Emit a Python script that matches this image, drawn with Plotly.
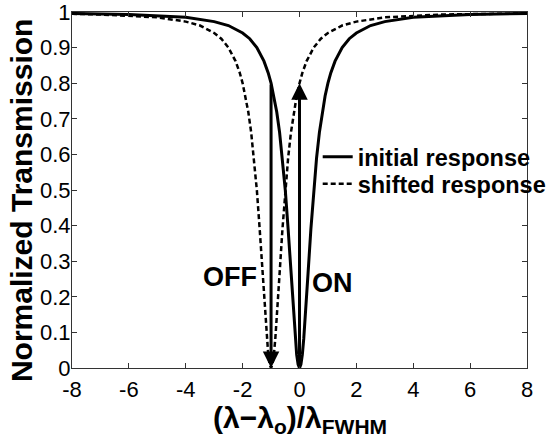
import plotly.graph_objects as go

# Normalized x: (lambda - lambda0) / lambda_FWHM
initial_x = [-8, -6, -4, -3, -2.5, -2, -1.75, -1.5, -1.25, -1.1, -1, -0.9, -0.8, -0.7, -0.6, -0.5,
             -0.4, -0.3, -0.2, -0.15, -0.1, -0.05, 0, 0.05, 0.1, 0.15, 0.2, 0.3, 0.4, 0.5, 0.6,
             0.7, 0.8, 0.9, 1, 1.1, 1.25, 1.5, 1.75, 2, 2.5, 3, 4, 6, 8]
initial_y = [0.996, 0.993, 0.985, 0.973, 0.962, 0.941, 0.925, 0.900, 0.862, 0.829, 0.800, 0.764,
             0.719, 0.662, 0.590, 0.500, 0.390, 0.265, 0.138, 0.083, 0.038, 0.010, 0.0, 0.010,
             0.038, 0.083, 0.138, 0.265, 0.390, 0.500, 0.590, 0.662, 0.719, 0.764, 0.800, 0.829,
             0.862, 0.900, 0.925, 0.941, 0.962, 0.973, 0.985, 0.993, 0.996]

shifted_x = [-8, -7, -5, -4, -3.5, -3, -2.75, -2.5, -2.25, -2.1, -2, -1.9, -1.8, -1.7, -1.6, -1.5,
             -1.4, -1.3, -1.2, -1.15, -1.1, -1.05, -1, -0.95, -0.9, -0.85, -0.8, -0.7, -0.6, -0.5,
             -0.4, -0.3, -0.2, -0.1, 0, 0.1, 0.25, 0.5, 0.75, 1, 1.5, 2, 3, 5, 7, 8]
shifted_y = [0.995, 0.993, 0.985, 0.973, 0.962, 0.941, 0.925, 0.900, 0.862, 0.829, 0.800, 0.764,
             0.719, 0.662, 0.590, 0.500, 0.390, 0.265, 0.138, 0.083, 0.038, 0.010, 0.0, 0.010,
             0.038, 0.083, 0.138, 0.265, 0.390, 0.500, 0.590, 0.662, 0.719, 0.764, 0.800, 0.829,
             0.862, 0.900, 0.925, 0.941, 0.962, 0.973, 0.985, 0.993, 0.995, 0.996]

x_ticks = [-8, -6, -4, -2, 0, 2, 4, 6, 8]
x_tick_labels = ["-8", "-6", "-4", "-2", "0", "2", "4", "6", "8"]
y_ticks = [0, 0.1, 0.2, 0.3, 0.4, 0.5, 0.6, 0.7, 0.8, 0.9, 1]
y_tick_labels = ["0", "0.1", "0.2", "0.3", "0.4", "0.5", "0.6", "0.7", "0.8", "0.9", "1"]

# Switching arrows: OFF at x=-1 (0.8 -> 0), ON at x=0 (0 -> 0.8)
off_x, off_from, off_to = -1, 0.8, 0.0
on_x, on_from, on_to = 0, 0.0, 0.8

FONT = "Liberation Sans, Arial, sans-serif"

fig = go.Figure()
fig.add_trace(go.Scatter(x=initial_x, y=initial_y, mode="lines", name="initial response",
                         line=dict(color="black", width=3), legend="legend"))
fig.add_trace(go.Scatter(x=shifted_x, y=shifted_y, mode="lines", name="shifted response",
                         line=dict(color="black", width=2.5, dash="5px,3px"), legend="legend2"))

for (ax_, fy, ty) in [(off_x, off_from, off_to), (on_x, on_from, on_to)]:
    fig.add_annotation(x=ax_, y=ty, ax=ax_, ay=fy, xref="x", yref="y", axref="x", ayref="y",
                       text="", showarrow=True, arrowhead=2, arrowsize=1.1, arrowwidth=3,
                       arrowcolor="black")

fig.add_annotation(x=-2.43, y=0.255, xref="x", yref="y", text="<b>OFF</b>", showarrow=False,
                   xanchor="center", yanchor="middle",
                   font=dict(family=FONT, size=27, color="black"))
fig.add_annotation(x=1.15, y=0.24, xref="x", yref="y", text="<b>ON</b>", showarrow=False,
                   xanchor="center", yanchor="middle",
                   font=dict(family=FONT, size=27, color="black"))

fig.add_annotation(x=-0.112, y=0.469, xref="paper", yref="paper", text="<b>Normalized Transmission</b>",
                   textangle=-90, showarrow=False, xanchor="center", yanchor="middle",
                   font=dict(family=FONT, size=30, color="black"))
fig.add_annotation(x=0.5, y=-0.145, xref="paper", yref="paper",
                   text="<b>(λ−λ<sub>o</sub>)/λ<sub>FWHM</sub></b>",
                   showarrow=False, xanchor="center", yanchor="middle",
                   font=dict(family=FONT, size=30, color="black"))

axis_common = dict(showline=True, linecolor="#333", linewidth=1, mirror="ticks", ticks="inside",
                   ticklen=5, tickcolor="#333", showgrid=False, zeroline=False,
                   ticklabeloverflow="allow",
                   tickfont=dict(family=FONT, size=22, color="black"))

fig.update_xaxes(range=[-8, 8], tickvals=x_ticks, ticktext=x_tick_labels, ticklabelstandoff=2,
                 **axis_common)
fig.update_yaxes(range=[0, 1], tickvals=y_ticks, ticktext=y_tick_labels, ticklabelstandoff=-4,
                 **axis_common)

legend_common = dict(x=0.54, xanchor="left", yanchor="middle", bgcolor="rgba(0,0,0,0)",
                     font=dict(family=FONT, size=23.5, color="black", weight="bold"),
                     itemwidth=30)

fig.update_layout(
    width=556, height=442,
    margin=dict(l=72, r=29, t=12, b=74, autoexpand=False),
    paper_bgcolor="white", plot_bgcolor="white",
    showlegend=True,
    legend=dict(y=0.593, **legend_common),
    legend2=dict(y=0.517, **legend_common),
)

fig.write_html("out.html")
